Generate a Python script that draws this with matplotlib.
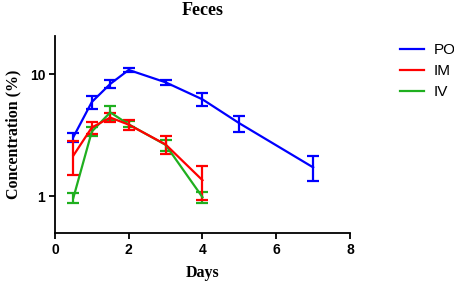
import matplotlib
matplotlib.use('Agg')
import matplotlib.pyplot as plt
from matplotlib.ticker import FixedLocator, NullLocator

days_po = [0.5, 1, 1.5, 2, 3, 4, 5, 7]
po = [3.05, 5.9, 8.3, 10.8, 8.55, 6.2, 3.95, 1.72]
po_sd = [0.26, 0.75, 0.6, 0.45, 0.35, 0.75, 0.6, 0.4]

days_im = [0.5, 1, 1.5, 2, 3, 4]
im = [2.15, 3.65, 4.4, 3.85, 2.65, 1.35]
im_sd = [0.66, 0.42, 0.37, 0.37, 0.45, 0.42]

days_iv = [0.5, 1, 1.5, 2, 3, 4]
iv = [0.97, 3.38, 4.85, 3.87, 2.63, 0.98]
iv_sd = [0.09, 0.3, 0.62, 0.22, 0.27, 0.1]

fig = plt.figure(figsize=(4.54, 2.83), dpi=100)
ax = fig.add_axes([0.121, 0.177, 0.65, 0.696])

kw = dict(linewidth=1.6, elinewidth=1.6, capsize=4, capthick=1.6)
ax.errorbar(days_po, po, yerr=po_sd, color='#0000FF', label='PO', **kw)
ax.errorbar(days_iv, iv, yerr=iv_sd, color='#1FAF1F', label='IV', **kw)
ax.errorbar(days_im, im, yerr=im_sd, color='#FF0000', label='IM', **kw)

ax.set_yscale('log')
ax.set_ylim(0.5, 20.5)
ax.set_xlim(0, 8)
ax.set_xticks([0, 2, 4, 6, 8])
ax.yaxis.set_major_locator(FixedLocator([1, 10]))
ax.yaxis.set_minor_locator(NullLocator())
ax.set_yticklabels(['1', '10'])

for s in ['top', 'right']:
    ax.spines[s].set_visible(False)
for s in ['left', 'bottom']:
    ax.spines[s].set_linewidth(1.3)
ax.tick_params(width=1.3, length=4, pad=3)
for lab in ax.get_xticklabels() + ax.get_yticklabels():
    lab.set_fontfamily('Liberation Sans')
    lab.set_fontweight('bold')
    lab.set_fontsize(10)

ax.set_xlabel('Days', fontfamily='Liberation Serif', fontweight='bold', fontsize=11.5, labelpad=6)
ax.set_ylabel('Concentration (%)', fontfamily='Liberation Serif', fontweight='bold', fontsize=11.5, labelpad=6)
ax.set_title('Feces', fontfamily='Liberation Serif', fontweight='bold', fontsize=13, pad=15)

h, l = ax.get_legend_handles_labels()
order = [0, 2, 1]
handles = [h[i][0] for i in order]
fig.legend(handles, [l[i] for i in order], loc='upper left', bbox_to_anchor=(0.85, 0.895),
           frameon=False, prop={'family': 'Liberation Sans', 'size': 11},
           handlelength=1.6, handletextpad=0.6, labelspacing=0.45)

fig.savefig('out.png', dpi=100)
